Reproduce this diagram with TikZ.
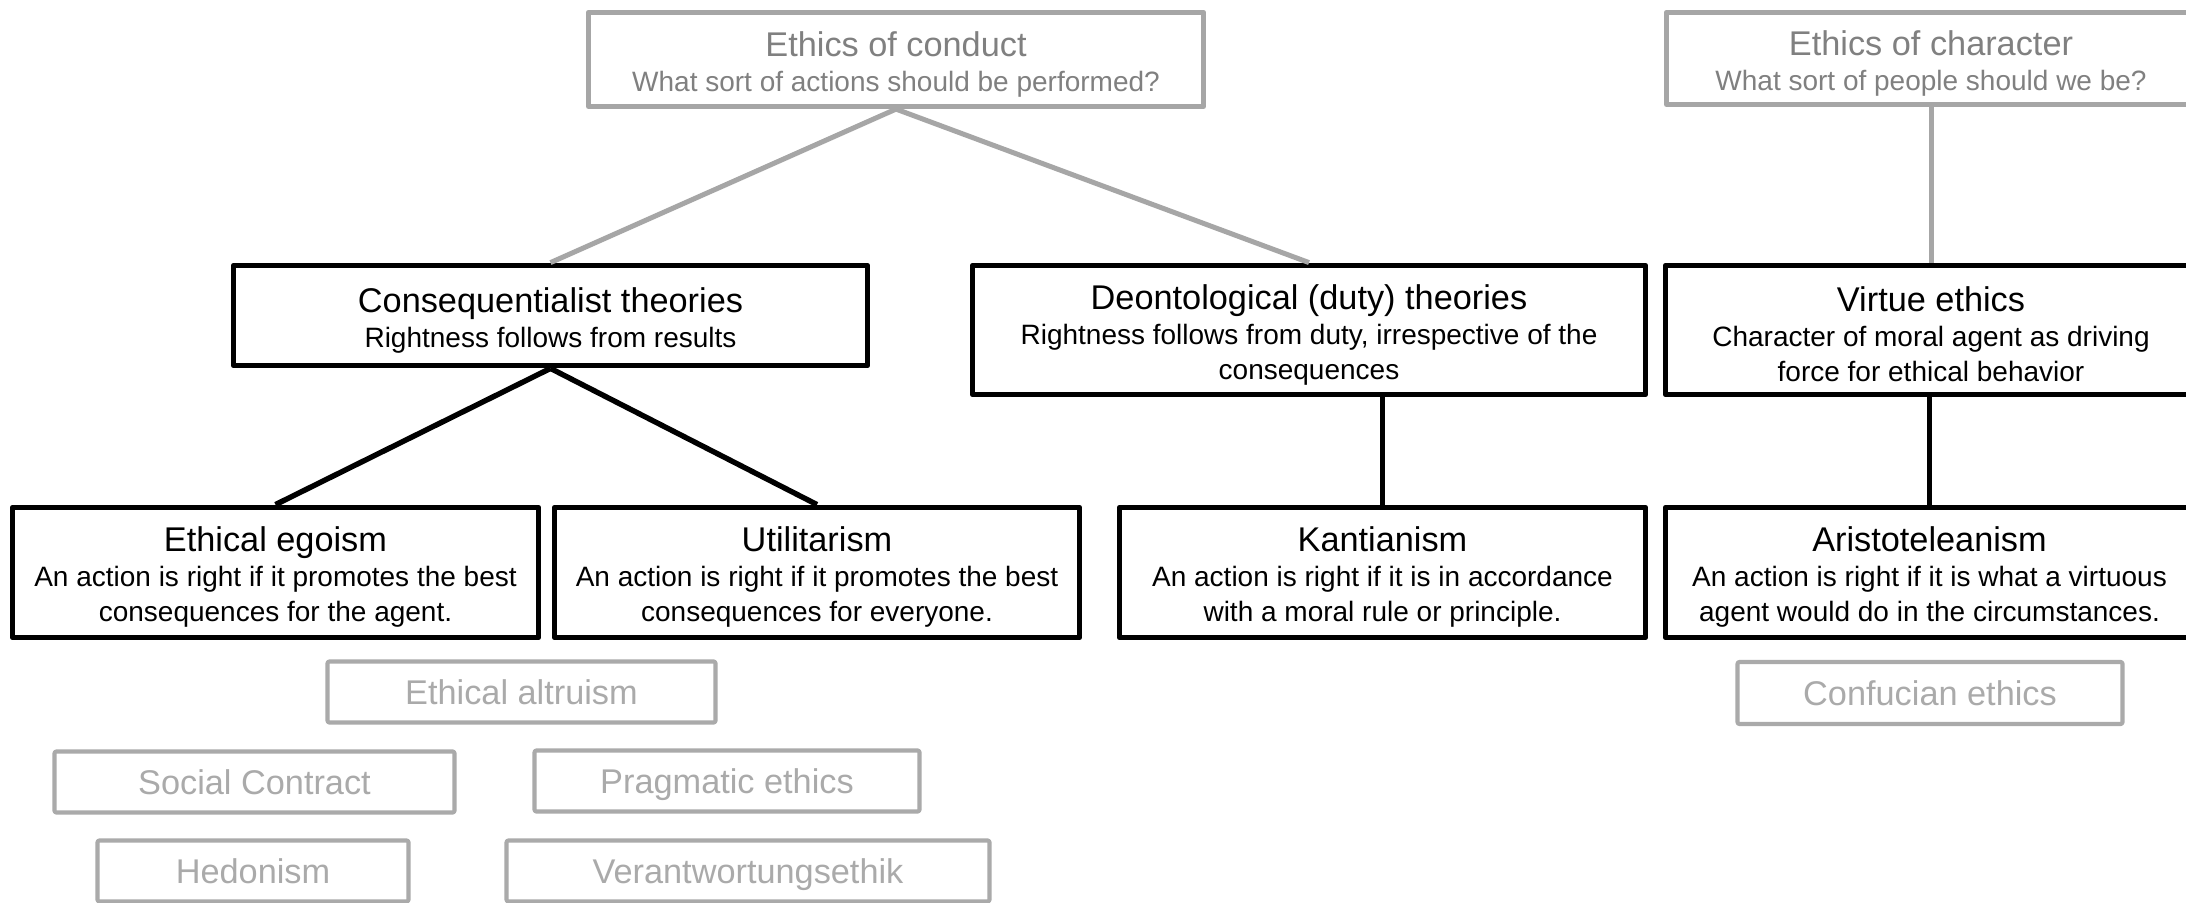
\documentclass[tikz,border=0pt]{standalone}
\usepackage{fontspec}
\setmainfont{Liberation Sans}
\definecolor{framegray}{HTML}{A6A6A6}
\definecolor{headgray}{HTML}{808080}
\definecolor{minorgray}{HTML}{AAAAAA}
\newcommand\ttlfont{\fontsize{17.15}{17.5}\selectfont}
\newcommand\subfont{\fontsize{14}{17.5}\selectfont}
% heading line of a box: a strut keeps the text block a little low in its frame
\newcommand\boxhead[1]{\rule{0pt}{17pt}{\ttlfont #1}\\}
\tikzset{
  sz/.style 2 args={minimum width=#1*0.5pt, minimum height=#2*0.5pt},
  theory/.style={draw=black, line width=2.9pt, line join=round, fill=white,
    inner sep=0pt, align=center, font=\subfont, text=black},
  family/.style={draw=framegray, line width=2.6pt, line join=round, fill=white,
    inner sep=0pt, align=center, font=\subfont, text=headgray},
  minor/.style={draw=minorgray, line width=2.1pt, line join=round,
    rounded corners=1pt, inner sep=0pt, font=\ttlfont, text=minorgray,
    text height=12.4pt, text depth=0pt},
  link/.style={line width=2.7pt, draw=black},
  glink/.style={line width=2.5pt, draw=framegray}
}
\begin{document}
\begin{tikzpicture}[x=0.5pt, y=-0.5pt]
\clip (0,0) rectangle (2186,903);
\fill[white] (0,0) rectangle (2186,903);

% the two families of normative ethics
\node[family, sz={615}{94}] (conduct) at (896,59.5)
  {\boxhead{Ethics of conduct}What sort of actions should be performed?};
\node[family, sz={529}{92}] (character) at (1931,58.5)
  {\boxhead{Ethics of character}What sort of people should we be?};

% main theories
\node[theory, sz={634}{100}] (conseq) at (550.5,315.5)
  {\boxhead{Consequentialist theories}Rightness follows from results};
\node[theory, sz={673}{129}] (deon) at (1309,330)
  {\boxhead{Deontological (duty) theories}Rightness follows from duty, irrespective of the\\consequences};
\node[theory, sz={531}{129}] (virtue) at (1931,330)
  {\boxhead{Virtue ethics}Character of moral agent as driving\\force for ethical behavior};

% concrete positions
\node[theory, sz={526}{130}] (egoism) at (275.5,572.5)
  {\boxhead{Ethical egoism}An action is right if it promotes the best\\consequences for the agent.};
\node[theory, sz={525}{130}] (util) at (817,572.5)
  {\boxhead{Utilitarism}An action is right if it promotes the best\\consequences for everyone.};
\node[theory, sz={526}{130}] (kant) at (1382.5,572.5)
  {\boxhead{Kantianism}An action is right if it is in accordance\\with a moral rule or principle.};
\node[theory, sz={528}{130}] (aristo) at (1929.5,572.5)
  {\boxhead{Aristoteleanism}An action is right if it is what a virtuous\\agent would do in the circumstances.};

% further schools
\node[minor, sz={388}{61}] (altruism) at (521.5,692) {Ethical altruism};
\node[minor, sz={400}{61}] (social) at (254.5,782) {Social Contract};
\node[minor, sz={385}{61}] (pragma) at (727,781) {Pragmatic ethics};
\node[minor, sz={311}{61}] (hedon) at (253,871) {Hedonism};
\node[minor, sz={483}{61}] (verant) at (748,871) {Verantwortungsethik};
\node[minor, sz={385}{62}] (confuc) at (1930,693) {Confucian ethics};

% connectors
\draw[glink] (conduct.south) -- (conseq.north);
\draw[glink] (conduct.south) -- (deon.north);
\draw[glink] (character.south) -- (virtue.north);
\draw[link] (conseq.south) -- (egoism.north);
\draw[link] (conseq.south) -- (util.north);
\draw[link] (kant.north) -- (kant.north |- deon.south);
\draw[link] (aristo.north) -- (aristo.north |- virtue.south);
\end{tikzpicture}
\end{document}
